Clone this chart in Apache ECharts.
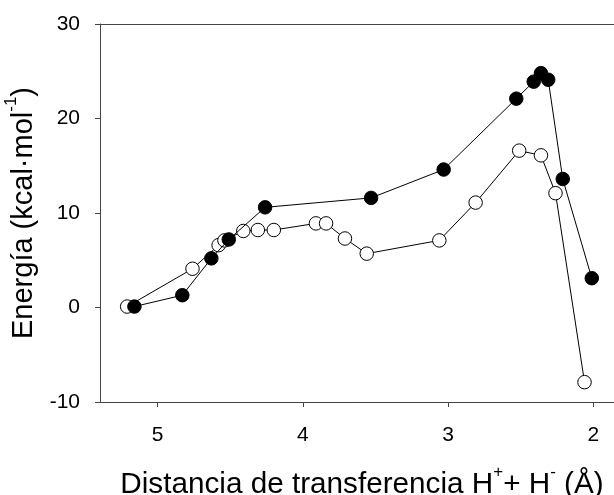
<!DOCTYPE html>
<html>
<head>
<meta charset="utf-8">
<script src="https://cdn.jsdelivr.net/npm/echarts@6/dist/echarts.min.js"></script>
<style>html,body{margin:0;padding:0;background:#fff}#c{width:614px;height:495px}</style>
</head>
<body>
<div id="c"></div>
<script>
const filledX = [5.16, 4.83, 4.63, 4.51, 4.26, 3.53, 3.03, 2.53, 2.41, 2.36, 2.31, 2.21, 2.01];
const filledY = [0.1, 1.3, 5.2, 7.2, 10.6, 11.6, 14.6, 22.1, 23.9, 24.8, 24.1, 13.6, 3.1];
const openX = [5.21, 4.76, 4.58, 4.54, 4.41, 4.31, 4.20, 3.91, 3.84, 3.71, 3.56, 3.06, 2.81, 2.51, 2.36, 2.26, 2.06];
const openY = [0.1, 4.1, 6.6, 7.1, 8.1, 8.2, 8.2, 8.9, 8.9, 7.3, 5.7, 7.1, 11.1, 16.6, 16.1, 12.1, -7.9];
const xTicks = [2, 3, 4, 5];
const yTicks = [-10, 0, 10, 20, 30];

const FONT = "'Liberation Sans', Arial, sans-serif";
const axisColor = '#444';
const zip = (xs, ys) => xs.map((x, i) => [x, ys[i]]);

const chart = echarts.init(document.getElementById('c'), null, {renderer: 'canvas'});
chart.setOption({
  animation: false,
  backgroundColor: '#fff',
  grid: {left: 100, right: 0, top: 24, bottom: 93, containLabel: false, outerBoundsMode: 'none'},
  xAxis: [{
    type: 'value', inverse: true, min: 1.857, max: 5.397,
    position: 'bottom',
    axisLine: {show: true, onZero: false, lineStyle: {color: axisColor, width: 1}},
    axisTick: {show: true, length: 5, customValues: xTicks, lineStyle: {color: axisColor}},
    axisLabel: {customValues: xTicks, margin: 23, fontSize: 21, color: '#000', fontFamily: FONT},
    splitLine: {show: false},
    name: '{a|Distancia de transferencia H}{s|+}{a|+ H}{s|-}{a| (Å)}',
    nameLocation: 'middle', nameGap: 62,
    nameTextStyle: {
      fontFamily: FONT, color: '#000', padding: [0, 0, 0, 10],
      rich: {
        a: {fontSize: 29.7, fontFamily: FONT, color: '#000', lineHeight: 36, verticalAlign: 'bottom'},
        s: {fontSize: 17, fontFamily: FONT, color: '#000', lineHeight: 17, verticalAlign: 'top'}
      }
    }
  }, {
    type: 'value', inverse: true, min: 1.857, max: 5.397,
    position: 'top',
    axisLine: {show: true, onZero: false, lineStyle: {color: axisColor, width: 1}},
    axisTick: {show: false}, axisLabel: {show: false}, splitLine: {show: false}
  }],
  yAxis: {
    type: 'value', min: -10, max: 30, interval: 10,
    axisLine: {show: true, onZero: false, lineStyle: {color: axisColor, width: 1}},
    axisTick: {show: true, length: 5, lineStyle: {color: axisColor}},
    axisLabel: {margin: 20, fontSize: 21, color: '#000', fontFamily: FONT},
    splitLine: {show: false},
    name: '{a|Energía (kcal·mol}{s|-1}{a|)}',
    nameLocation: 'middle', nameGap: 55,
    nameTextStyle: {
      fontFamily: FONT, color: '#000',
      rich: {
        a: {fontSize: 29, fontFamily: FONT, color: '#000', lineHeight: 36, verticalAlign: 'bottom'},
        s: {fontSize: 17, fontFamily: FONT, color: '#000', lineHeight: 17, verticalAlign: 'top'}
      }
    }
  },
  series: [{
    type: 'line', data: zip(openX, openY),
    symbol: 'circle', symbolSize: 13.5,
    itemStyle: {color: '#fff', borderColor: '#000', borderWidth: 1},
    lineStyle: {color: '#000', width: 1},
    z: 2
  }, {
    type: 'line', data: zip(filledX, filledY),
    symbol: 'circle', symbolSize: 13.5,
    itemStyle: {color: '#000', borderColor: '#000', borderWidth: 1},
    lineStyle: {color: '#000', width: 1},
    z: 3
  }]
});
</script>
</body>
</html>
